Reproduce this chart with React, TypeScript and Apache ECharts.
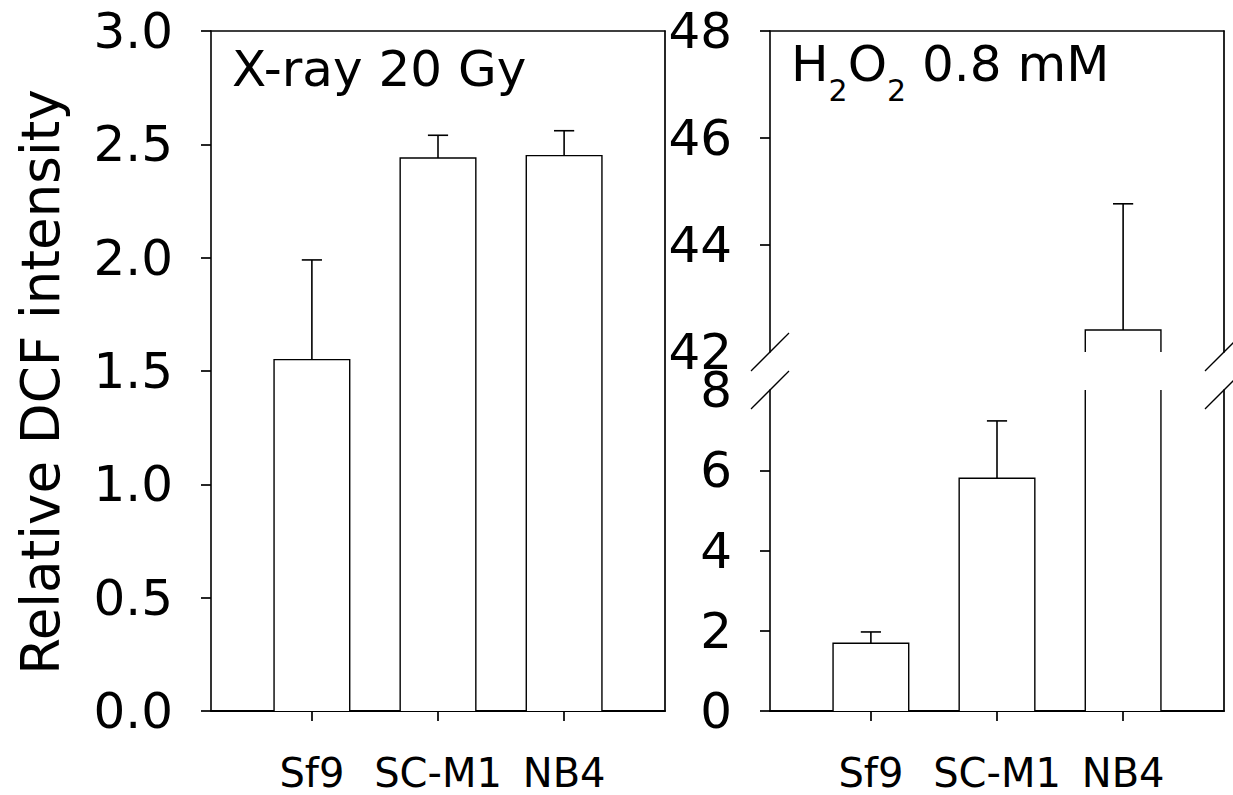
import React, { useEffect, useRef } from 'react';
import * as echarts from 'echarts';

// ---- data ----
const categories = ['Sf9', 'SC-M1', 'NB4'];
const categoryPositions = [1, 2, 3];
const xrayMeans = [1.55, 2.44, 2.45];
const xrayErrors = [0.44, 0.1, 0.11];
const h2o2Means = [1.69, 5.8, 42.41];
const h2o2Errors = [0.28, 1.43, 2.36];
const xrayTicks = [0, 0.5, 1, 1.5, 2, 2.5, 3];
const h2o2LowTicks = [0, 2, 4, 6, 8];
const h2o2HighTicks = [42, 44, 46, 48];
const yAxisTitle = 'Relative DCF intensity';
const leftTitle = 'X-ray 20 Gy';

// ---- layout ----
const FONT = 'DejaVu Sans';
const LEFT0 = 211;
const LEFT1 = 770;
const W = 454;
const TOP = 31;
const BOTTOM = 711;
const HI_BOTTOM = 352;
const LO_TOP = 390;
const X_MIN = 0.2;
const X_MAX = 3.8;
const BAR_HALF = 0.3;
const CAP_HALF = 0.08;

function makeRenderer(yMin: number, yMax: number) {
  return (params: any, api: any) => {
    const x = api.value(0);
    const mean = api.value(1);
    const err = api.value(2);
    const children: any[] = [];
    if (mean <= yMin) return { type: 'group', children };
    const base = Math.max(0, yMin);
    const top = Math.min(mean, yMax);
    const bl = api.coord([x - BAR_HALF, base]);
    const tr = api.coord([x + BAR_HALF, top]);
    children.push({
      type: 'rect',
      shape: { x: bl[0], y: tr[1], width: tr[0] - bl[0], height: bl[1] - tr[1] },
      style: { fill: '#fff' },
    });
    const lineStyle = { stroke: '#000', lineWidth: 1.4, fill: 'none' };
    if (mean <= yMax) {
      children.push({
        type: 'polyline',
        shape: { points: [[bl[0], bl[1]], [bl[0], tr[1]], [tr[0], tr[1]], [tr[0], bl[1]]] },
        style: lineStyle,
      });
      const e = mean + err;
      const p0 = api.coord([x, mean]);
      const p1 = api.coord([x, e]);
      const c0 = api.coord([x - CAP_HALF, e]);
      const c1 = api.coord([x + CAP_HALF, e]);
      children.push({ type: 'line', shape: { x1: p0[0], y1: p0[1], x2: p1[0], y2: p1[1] }, style: { stroke: '#000', lineWidth: 1.6 } });
      children.push({ type: 'line', shape: { x1: c0[0], y1: c0[1], x2: c1[0], y2: c1[1] }, style: { stroke: '#000', lineWidth: 1.6 } });
    } else {
      children.push({ type: 'line', shape: { x1: bl[0], y1: bl[1], x2: bl[0], y2: tr[1] }, style: lineStyle });
      children.push({ type: 'line', shape: { x1: tr[0], y1: bl[1], x2: tr[0], y2: tr[1] }, style: lineStyle });
    }
    return { type: 'group', children };
  };
}

const axisLineStyle = (w: number) => ({ show: true, onZero: false, lineStyle: { color: '#000', width: w } });

function catXAxis(gridIndex: number) {
  return {
    type: 'value',
    gridIndex,
    position: 'bottom',
    min: X_MIN,
    max: X_MAX,
    axisLine: axisLineStyle(2),
    axisTick: { show: true, customValues: categoryPositions, length: 10, inside: false, lineStyle: { color: '#000', width: 1.7 } },
    axisLabel: {
      show: true,
      customValues: categoryPositions,
      formatter: (v: number) => categories[Math.round(v) - 1] ?? '',
      fontFamily: FONT,
      fontSize: 40,
      color: '#000',
      margin: 42,
    },
    splitLine: { show: false },
  };
}

function borderXAxis(gridIndex: number) {
  return {
    type: 'value',
    gridIndex,
    position: 'top',
    min: X_MIN,
    max: X_MAX,
    axisLine: axisLineStyle(1.6),
    axisTick: { show: false },
    axisLabel: { show: false },
    splitLine: { show: false },
  };
}

function valueYAxis(gridIndex: number, min: number, max: number, interval: number, tickVals: number[], labelVals: number[], digits: number) {
  return {
    type: 'value',
    gridIndex,
    position: 'left',
    min,
    max,
    interval,
    axisLine: axisLineStyle(1.6),
    axisTick: { show: true, customValues: tickVals, length: 10, lineStyle: { color: '#000', width: 1.7 } },
    axisLabel: {
      show: true,
      customValues: labelVals,
      showMinLabel: true,
      showMaxLabel: true,
      formatter: (v: number) => v.toFixed(digits),
      fontFamily: FONT,
      fontSize: 50,
      color: '#000',
      margin: 38,
    },
    splitLine: { show: false },
  };
}

function borderYAxis(gridIndex: number, min: number, max: number) {
  return {
    type: 'value',
    gridIndex,
    position: 'right',
    min,
    max,
    axisLine: axisLineStyle(1.7),
    axisTick: { show: false },
    axisLabel: { show: false },
    splitLine: { show: false },
  };
}

function slash(x: number, y: number) {
  return {
    type: 'line',
    shape: { x1: x - 19, y1: y + 19, x2: x + 19, y2: y - 19 },
    style: { stroke: '#000', lineWidth: 1.3 },
    z: 100,
  };
}

export default function App() {
  const ref = useRef<HTMLDivElement>(null);
  useEffect(() => {
    if (!ref.current) return;
    const chart = echarts.init(ref.current, null, { renderer: 'svg' });
    const toData = (means: number[], errs: number[]) => categoryPositions.map((p, i) => [p, means[i], errs[i]]);
    const option: any = {
      animation: false,
      backgroundColor: '#fff',
      grid: [
        { left: LEFT0, top: TOP, width: W, height: BOTTOM - TOP },
        { left: LEFT1, top: LO_TOP, width: W, height: BOTTOM - LO_TOP },
        { left: LEFT1, top: TOP, width: W, height: HI_BOTTOM - TOP },
      ],
      xAxis: [catXAxis(0), borderXAxis(0), catXAxis(1), borderXAxis(2)],
      yAxis: [
        valueYAxis(0, 0, 3, 0.5, xrayTicks, xrayTicks, 1),
        borderYAxis(0, 0, 3),
        valueYAxis(1, 0, 8, 2, h2o2LowTicks.slice(0, -1), h2o2LowTicks, 0),
        borderYAxis(1, 0, 8),
        valueYAxis(2, 42, 48, 2, h2o2HighTicks.slice(1), h2o2HighTicks, 0),
        borderYAxis(2, 42, 48),
      ],
      series: [
        { type: 'custom', xAxisIndex: 0, yAxisIndex: 0, renderItem: makeRenderer(0, 3), data: toData(xrayMeans, xrayErrors), encode: { x: 0, y: 1 }, silent: true },
        { type: 'custom', xAxisIndex: 2, yAxisIndex: 2, renderItem: makeRenderer(0, 8), data: toData(h2o2Means, h2o2Errors), encode: { x: 0, y: 1 }, silent: true },
        { type: 'custom', xAxisIndex: 3, yAxisIndex: 4, renderItem: makeRenderer(42, 48), data: toData(h2o2Means, h2o2Errors), encode: { x: 0, y: 1 }, silent: true },
      ],
      graphic: [
        {
          type: 'text',
          x: 40,
          y: 382,
          rotation: Math.PI / 2,
          style: { text: yAxisTitle, fontFamily: FONT, fontSize: 53, fill: '#000', align: 'center', verticalAlign: 'middle', textAlign: 'center', textVerticalAlign: 'middle' },
        },
        {
          type: 'text',
          x: 232,
          y: 69,
          style: { text: leftTitle, fontFamily: FONT, fontSize: 50, fill: '#000', align: 'left', verticalAlign: 'middle', textAlign: 'left', textVerticalAlign: 'middle' },
        },
        {
          type: 'text',
          x: 791,
          y: 80,
          style: {
            text: '{a|H}{s|2}{a|O}{s|2}{a| 0.8 mM}',
            fontFamily: FONT,
            fill: '#000',
            align: 'left',
            verticalAlign: 'middle',
            textAlign: 'left',
            textVerticalAlign: 'middle',
            rich: {
              a: { fontFamily: FONT, fontSize: 50, lineHeight: 50, padding: [0, 0, 16, 0], verticalAlign: 'bottom', fill: '#000', color: '#000' },
              s: { fontFamily: FONT, fontSize: 30, lineHeight: 30, verticalAlign: 'bottom', fill: '#000', color: '#000' },
            },
          },
        },
        slash(LEFT1, HI_BOTTOM),
        slash(LEFT1, LO_TOP),
        slash(LEFT1 + W, HI_BOTTOM),
        slash(LEFT1 + W, LO_TOP),
      ],
    };
    chart.setOption(option);
    return () => chart.dispose();
  }, []);
  return <div ref={ref} style={{ position: 'fixed', left: 0, top: 0, width: 1233, height: 795, background: '#fff' }} />;
}
